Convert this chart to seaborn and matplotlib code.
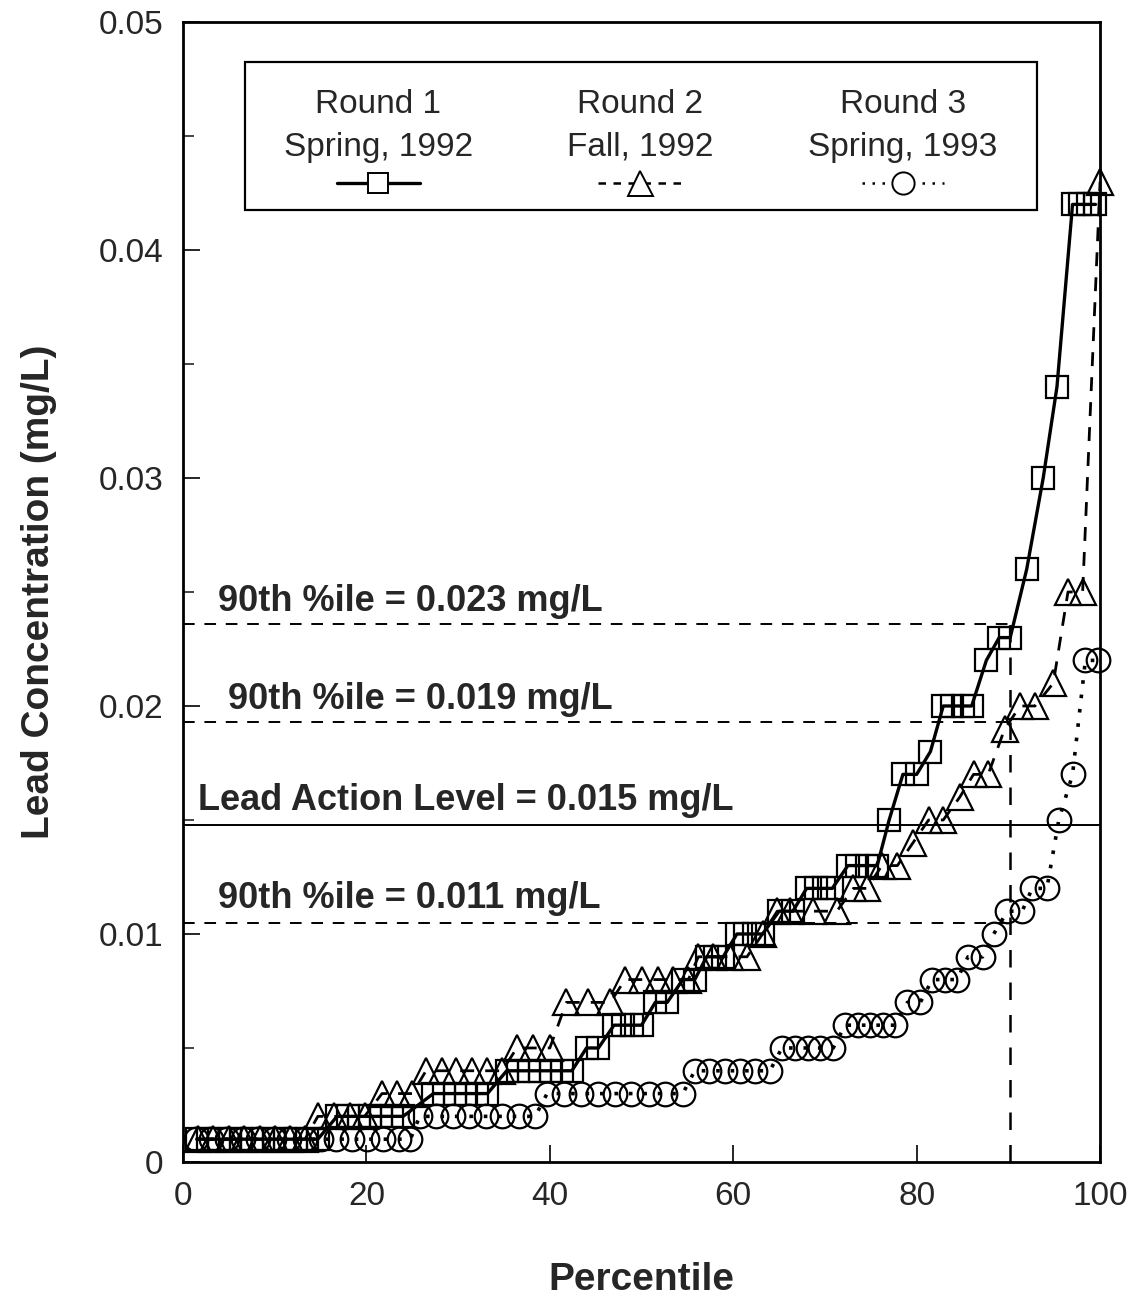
import matplotlib
matplotlib.use("Agg")
import matplotlib.pyplot as plt
from matplotlib.lines import Line2D
from matplotlib.patches import Rectangle
import seaborn as sns
import pandas as pd

# ---------------- data ----------------
r1_pct = [1.5, 2.7, 3.9, 5.1, 6.3, 7.5, 8.7, 9.9, 11.1, 12.3, 13.5, 14.7,
          16.8, 18.0, 19.2, 20.4, 21.6, 22.8, 24.0,
          27.3, 28.5, 29.7, 30.9, 32.1, 33.2,
          35.3, 36.5, 37.7, 38.9, 40.1, 41.3, 42.4,
          44.0, 45.3,
          47.0, 48.0, 49.0, 50.0,
          51.5, 52.8,
          54.5, 55.8,
          57.1, 58.0, 58.9,
          60.4, 61.3, 62.3, 63.2,
          65.0, 66.5,
          68.0, 69.0, 69.9, 70.8,
          72.5, 73.5, 74.6, 75.7,
          77.0,
          78.5, 80.0,
          81.5,
          82.9, 83.9, 85.0, 86.0,
          87.6,
          89.0, 90.2,
          92.0, 93.8, 95.3,
          97.0, 97.8, 98.7, 99.5]
r1_conc = [0.001] * 12 + [0.002] * 7 + [0.003] * 6 + [0.004] * 7 + [0.005] * 2 + \
          [0.006] * 4 + [0.007] * 2 + [0.008] * 2 + [0.009] * 3 + [0.010] * 4 + \
          [0.011] * 2 + [0.012] * 4 + [0.013] * 4 + [0.015] + [0.017] * 2 + \
          [0.018] + [0.020] * 4 + [0.022] + [0.023] * 2 + [0.026, 0.030, 0.034] + \
          [0.042] * 4

r2_pct = [1.6, 3.3, 5.0, 6.7, 8.4, 10.0, 11.7, 13.3,
          14.7, 16.5, 18.2, 19.8,
          21.7, 23.3, 25.0,
          26.5, 28.2, 29.8, 31.5, 33.2, 34.8,
          36.4, 38.2, 40.0,
          41.8, 44.2, 46.6,
          48.2, 50.1, 51.8, 53.4, 55.1,
          56.2, 57.8, 59.7, 61.5,
          63.2,
          64.8, 66.2, 68.7, 71.3,
          73.1, 74.6,
          76.2, 77.9,
          79.6,
          81.3, 82.9,
          84.7,
          86.2, 87.8,
          89.6,
          91.3, 92.9,
          94.9,
          96.5, 98.1,
          100.0]
r2_conc = [0.001] * 8 + [0.002] * 4 + [0.003] * 3 + [0.004] * 6 + [0.005] * 3 + \
          [0.007] * 3 + [0.008] * 5 + [0.009] * 4 + [0.010] + [0.011] * 4 + \
          [0.012] * 2 + [0.013] * 2 + [0.014] + [0.015] * 2 + [0.016] + \
          [0.017] * 2 + [0.019] + [0.020] * 2 + [0.021] + [0.025] * 2 + [0.043]

r3_pct = [1.4, 3.1, 4.8, 6.5, 8.2, 9.9, 11.6, 13.3, 15.0, 16.7, 18.4, 20.1, 21.8, 23.5, 24.8,
          25.8, 27.6, 29.4, 31.2, 33.0, 34.8, 36.6, 38.4,
          39.7, 41.5, 43.4, 45.2, 47.1, 48.9, 50.8, 52.6, 54.5,
          55.8, 57.4, 59.1, 60.7, 62.4, 64.0,
          65.3, 66.7, 68.1, 69.5, 70.9,
          72.2, 73.6, 74.9, 76.3, 77.6,
          79.0, 80.4,
          81.7, 83.1, 84.4,
          85.6, 87.2,
          88.4,
          89.9, 91.5,
          92.6, 94.2,
          95.5,
          97.0,
          98.4, 99.8]
r3_conc = [0.001] * 15 + [0.002] * 8 + [0.003] * 9 + [0.004] * 6 + [0.005] * 5 + \
          [0.006] * 5 + [0.007] * 2 + [0.008] * 3 + [0.009] * 2 + [0.010] + \
          [0.011] * 2 + [0.012] * 2 + [0.015] + [0.017] + [0.022] * 2

round_titles = ["Round 1", "Round 2", "Round 3"]
round_dates = ["Spring, 1992", "Fall, 1992", "Spring, 1993"]

p90_values = [0.0236, 0.0193, 0.0105]
p90_labels = ["90th %ile = 0.023 mg/L", "90th %ile = 0.019 mg/L", "90th %ile = 0.011 mg/L"]
p90_pct = 90.2
action_level = 0.0148
action_label = "Lead Action Level = 0.015 mg/L"

x_ticks = [0, 20, 40, 60, 80, 100]
y_ticks = [0, 0.01, 0.02, 0.03, 0.04, 0.05]
y_ticklabels = ["0", "0.01", "0.02", "0.03", "0.04", "0.05"]

# ---------------- style ----------------
sns.set_style("ticks")
plt.rcParams["font.family"] = ["Liberation Sans", "DejaVu Sans"]

fig = plt.figure(figsize=(11.27, 13.10), dpi=100)
ax = fig.add_axes([0.1624, 0.113, 0.8137, 0.8702])

series = [
    (r1_pct, r1_conc, "s", "-", 2.4, 16),
    (r2_pct, r2_conc, "^", (0, (5, 4)), 2.0, 19),
    (r3_pct, r3_conc, "o", (0, (1, 3)), 2.6, 17),
]
for pct, conc, mk, ls, lw, ms in series:
    df = pd.DataFrame({"pct": pct, "conc": conc})
    sns.lineplot(data=df, x="pct", y="conc", ax=ax, sort=False, estimator=None,
                 color="black", linewidth=lw, linestyle=ls, marker=mk,
                 markersize=ms, markerfacecolor="none", markeredgecolor="black",
                 markeredgewidth=1.6, legend=False, zorder=3, clip_on=False)

# reference lines
for v in p90_values:
    ax.plot([0, p90_pct], [v, v], color="black", lw=1.4, ls=(0, (6, 5)), zorder=2)
ax.plot([p90_pct, p90_pct], [0, p90_values[0]], color="black", lw=1.8,
        ls=(0, (7, 6)), zorder=2)
ax.axhline(action_level, color="black", lw=1.4, zorder=2)

txt_kw = dict(fontsize=26, fontweight="bold", va="bottom", ha="left")
ax.text(3.8, 0.0238, p90_labels[0], **txt_kw)
ax.text(4.9, 0.0195, p90_labels[1], **txt_kw)
ax.text(1.6, 0.0151, action_label, **txt_kw)
ax.text(3.8, 0.0108, p90_labels[2], **txt_kw)

# legend box drawn manually (text above symbols)
ax.add_patch(Rectangle((0.068, 0.835), 0.863, 0.130, transform=ax.transAxes,
                       fill=True, facecolor="white", edgecolor="black", lw=1.6,
                       zorder=5))
cols = [0.213, 0.498, 0.785]
for i, (cx, (pct, conc, mk, ls, lw, ms)) in enumerate(zip(cols, series)):
    ax.text(cx, 0.928, round_titles[i], transform=ax.transAxes, ha="center",
            va="center", fontsize=24, zorder=6)
    ax.text(cx, 0.890, round_dates[i], transform=ax.transAxes, ha="center",
            va="center", fontsize=24, zorder=6)
    ax.add_line(Line2D([cx - 0.045, cx + 0.045], [0.859, 0.859], transform=ax.transAxes,
                       color="black", lw=lw if i == 0 else 1.8,
                       ls=ls if i == 0 else ((0, (3, 3)) if i == 1 else (0, (1, 3))),
                       zorder=6))
    ax.add_line(Line2D([cx], [0.859], transform=ax.transAxes, marker=mk,
                       markersize=ms - 1, markerfacecolor="white", markeredgecolor="black",
                       markeredgewidth=1.4, zorder=7))

# axes
ax.set_xlim(0, 100)
ax.set_ylim(0, 0.05)
ax.set_xticks(x_ticks)
ax.set_xticklabels([str(t) for t in x_ticks])
ax.set_yticks(y_ticks)
ax.set_yticklabels(y_ticklabels)
ax.set_yticks([0.005, 0.015, 0.025, 0.035, 0.045], minor=True)
ax.tick_params(axis="both", which="major", direction="in", length=12, width=1.4,
               labelsize=24, pad=14)
ax.tick_params(axis="y", which="minor", direction="in", length=8, width=1.2)
for s in ax.spines.values():
    s.set_visible(True)
    s.set_linewidth(2.0)
    s.set_color("black")

ax.set_xlabel("Percentile", fontsize=28, fontweight="bold", labelpad=36)
ax.set_ylabel("Lead Concentration (mg/L)", fontsize=28, fontweight="bold", labelpad=30)

fig.savefig("out.png", dpi=100)
